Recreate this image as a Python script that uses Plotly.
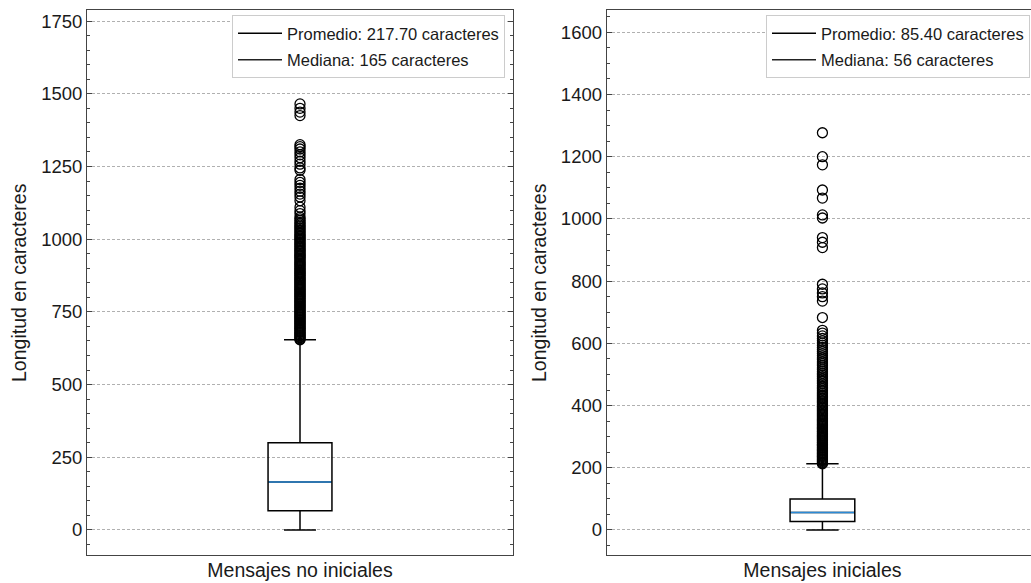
import plotly.graph_objects as go

# ---------------- data ----------------
categories = ["Mensajes no iniciales", "Mensajes iniciales"]

mean_values = [217.70, 85.40]
median_values = [165, 56]
q1_values = [66, 27]
q3_values = [300, 100]
lower_fence = [0, 0]
upper_fence = [654, 213]

outliers_no_iniciales = [
    654, 657, 661, 664, 668, 671, 675, 679, 682, 686, 690, 693, 697, 700, 704,
    708, 711, 715, 719, 722, 726, 730, 733, 737, 741, 744, 748, 752, 755, 759,
    763, 766, 770, 774, 777, 781, 785, 788, 792, 796, 800, 803, 807, 811, 814,
    818, 822, 826, 829, 833, 837, 841, 844, 848, 852, 856, 860, 863, 867, 871,
    875, 879, 882, 886, 890, 894, 898, 902, 906, 910, 914, 918, 922, 926, 931,
    935, 939, 943, 947, 951, 956, 960, 964, 968, 973, 977, 982, 986, 991, 995,
    1000, 1004, 1009, 1013, 1018, 1023, 1028, 1033, 1038, 1043, 1048, 1053,
    1058, 1064, 1070, 1076, 1088, 1098, 1110, 1132, 1145, 1155, 1165, 1175,
    1185, 1195, 1205, 1237, 1245, 1258, 1268, 1280, 1290, 1300, 1310, 1318,
    1325, 1425, 1437, 1450, 1465,
]

outliers_iniciales = [
    213, 216, 219, 223, 226, 229, 233, 236, 239, 243, 246, 249, 253, 256, 259,
    263, 266, 270, 273, 276, 280, 283, 287, 290, 294, 297, 301, 304, 308, 311,
    315, 318, 322, 326, 329, 333, 337, 340, 344, 348, 352, 355, 359, 363, 367,
    371, 375, 379, 383, 387, 391, 395, 399, 403, 408, 412, 416, 421, 425, 430,
    434, 439, 444, 449, 454, 459, 464, 470, 476, 481, 487, 493, 498, 503, 509,
    515, 521, 528, 534, 540, 547, 553, 560, 567, 574, 580, 587, 594, 601, 608,
    616, 624, 633, 642, 683, 736, 750, 762, 775, 790, 908, 925, 940, 1003,
    1013, 1067, 1093, 1174, 1200, 1277,
]
outliers = [outliers_no_iniciales, outliers_iniciales]

# ---------------- layout constants ----------------
W, H = 1031, 583
FONT = "Liberation Sans, Arial, Helvetica, sans-serif"
TXT = "#1a1a1a"
FRAME = "#444444"
BOX_WIDTH = 0.15
x_domains = [[87 / W, 513 / W], [606.7 / W, 1.0]]
x_ranges = [[-0.5, 0.5], [-0.5, 0.4834]]
y_domain = [28 / H, 573 / H]
y_ranges = [[-86, 1788], [-80.4, 1671.7]]
y_dticks = [250, 200]
legend_x = [505 / W, 1030 / W]
title_x = [18.5 / W, 538.5 / W]

fig = go.Figure()

for i in range(2):
    xa = "x" if i == 0 else "x2"
    ya = "y" if i == 0 else "y2"
    leg = "legend" if i == 0 else "legend2"
    dom_px = (x_domains[i][1] - x_domains[i][0]) * W
    px_per_unit = dom_px / (x_ranges[i][1] - x_ranges[i][0])
    box_px = BOX_WIDTH * px_per_unit

    fig.add_trace(go.Box(
        x=[0], q1=[q1_values[i]], median=[median_values[i]], q3=[q3_values[i]],
        lowerfence=[lower_fence[i]], upperfence=[upper_fence[i]],
        width=BOX_WIDTH, whiskerwidth=0.5, boxpoints=False,
        fillcolor="rgba(0,0,0,0)", line=dict(color="black", width=1.5),
        xaxis=xa, yaxis=ya, showlegend=False, hoverinfo="skip",
    ))
    # median line in blue (line-ew symbol spans 1.4 x size)
    fig.add_trace(go.Scatter(
        x=[0], y=[median_values[i]], mode="markers",
        marker=dict(symbol="line-ew", size=(box_px - 1.5) / 1.4,
                    line=dict(color="#2b8ad6", width=1.6)),
        xaxis=xa, yaxis=ya, showlegend=False, hoverinfo="skip",
    ))
    # outliers
    fig.add_trace(go.Scatter(
        x=[0] * len(outliers[i]), y=outliers[i], mode="markers",
        marker=dict(symbol="circle-open", size=10, color="black",
                    line=dict(width=1.3, color="black")),
        xaxis=xa, yaxis=ya, showlegend=False, hoverinfo="skip",
    ))
    # legend entries
    fig.add_trace(go.Scatter(
        x=[None], y=[None], mode="lines", line=dict(color="black", width=1.5),
        name=f"Promedio: {mean_values[i]:.2f} caracteres",
        legend=leg, legendgroup=f"a{i}", xaxis=xa, yaxis=ya,
    ))
    fig.add_trace(go.Scatter(
        x=[None], y=[None], mode="lines", line=dict(color="#222222", width=1.5),
        name=f"Mediana: {median_values[i]} caracteres",
        legend=leg, legendgroup=f"b{i}", xaxis=xa, yaxis=ya,
    ))

    sfx = "" if i == 0 else "2"
    fig.update_layout(**{
        f"xaxis{sfx}": dict(
            domain=x_domains[i], range=x_ranges[i], anchor=ya,
            tickvals=[0], ticktext=[categories[i]], ticks="",
            tickfont=dict(size=19.5, color=TXT, family=FONT),
            showline=True, linecolor=FRAME, linewidth=1, mirror=True,
            showgrid=False, zeroline=False, automargin=False,
            ticklabelstandoff=-2,
        ),
        f"yaxis{sfx}": dict(
            domain=y_domain, range=y_ranges[i], anchor=xa,
            tick0=0, dtick=y_dticks[i], ticks="inside", ticklen=5,
            tickwidth=1, tickcolor=FRAME,
            minor=dict(dtick=50, ticks="inside", ticklen=3, tickcolor=FRAME,
                       tickwidth=1, showgrid=False),
            showgrid=True, gridcolor="#b0b0b0", griddash="3px,2px",
            gridwidth=0.8, zeroline=False,
            showline=True, linecolor=FRAME, linewidth=1,
            mirror="ticks" if i == 0 else False,
            tickfont=dict(size=18.5, color=TXT, family=FONT),
            automargin=False,
        ),
        f"legend{sfx}": dict(
            x=legend_x[i], xanchor="right", y=1 - 15 / H, yanchor="top",
            bordercolor="#cccccc", borderwidth=1, bgcolor="white",
            font=dict(size=16.5, color=TXT, family=FONT),
            tracegroupgap=2, itemwidth=44,
        ),
    })
    fig.add_annotation(
        text="Longitud en caracteres", xref="paper", yref="paper",
        x=title_x[i], y=1 - 282.5 / H, xanchor="center", yanchor="middle",
        textangle=-90, showarrow=False,
        font=dict(size=19.5, color=TXT, family=FONT),
    )

fig.update_layout(
    width=W, height=H, template="none",
    margin=dict(l=0, r=0, t=0, b=0, pad=0),
    plot_bgcolor="white", paper_bgcolor="white",
    font=dict(family=FONT, color=TXT),
)

fig.write_html(
    "out.html",
    config={"displayModeBar": False},
    post_script="document.body.style.margin='0';document.body.style.overflow='hidden';",
)
